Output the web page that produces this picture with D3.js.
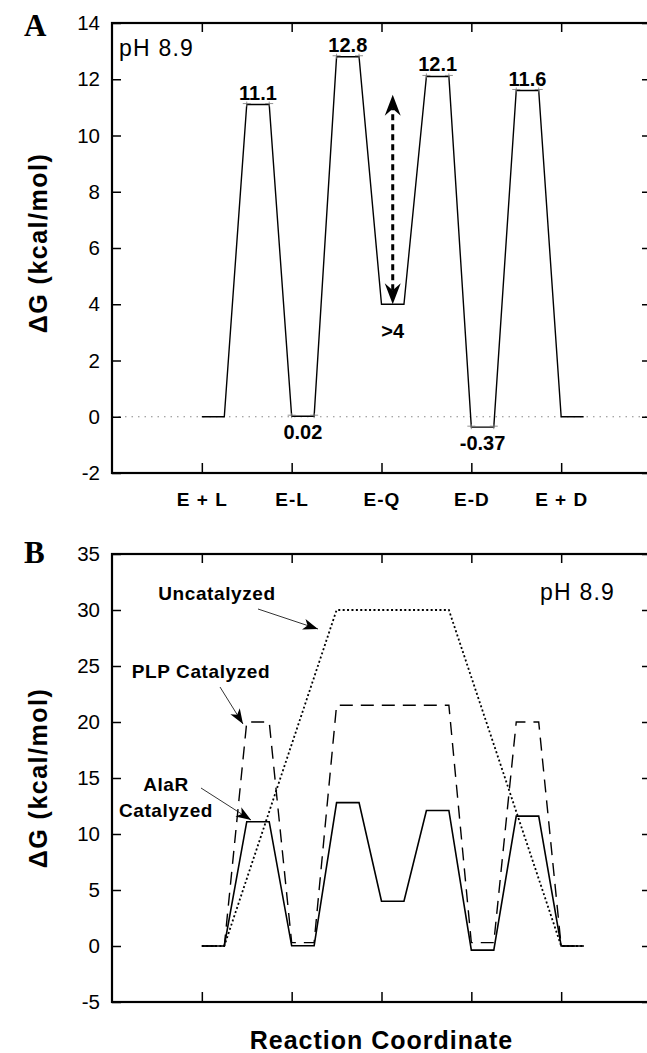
<!DOCTYPE html>
<html><head><meta charset="utf-8">
<script src="https://cdn.jsdelivr.net/npm/d3@7"></script>
<style>
body{margin:0;background:#fff}
svg text{font-family:Arial,"Liberation Sans",Helvetica,sans-serif;fill:#000}
</style>
</head><body>
<svg id="c" width="647" height="1053"></svg>
<script>
// ---------- data ----------
const categories = ["E + L", "E-L", "E-Q", "E-D", "E + D"];
const categoryPos = [1, 2, 3, 4, 5];
const slotStart = [1, 1.5, 2, 2.5, 3, 3.5, 4, 4.5, 5];
const slotWidth = 0.25;
const alarLevels  = [0, 11.1, 0.02, 12.8, 4, 12.1, -0.37, 11.6, 0];
const plpLevels   = [0, 20, 0.3, 21.5, 21.5, 21.5, 0.3, 20, 0];
const uncatLevels = [0, null, null, 30, 30, 30, null, null, 0];
const yTicksA = [-2, 0, 2, 4, 6, 8, 10, 12, 14];
const yTicksB = [-5, 0, 5, 10, 15, 20, 25, 30, 35];
const aboveSlots = [1, 3, 5, 7];
const aboveLabels = ["11.1", "12.8", "12.1", "11.6"];
const belowSlots = [2, 4, 6];
const belowLabels = ["0.02", ">4", "-0.37"];
const arrowRange = [4, 11.45];   // dashed double arrow in panel A (kcal/mol)

// ---------- layout ----------
const svg = d3.select("#c");
const xL = 112, xR = 651;
const x = d3.scaleLinear().domain([0, 6]).range([xL, xR]);
const yA = d3.scaleLinear().domain([-2, 14]).range([473, 23]);
const yB = d3.scaleLinear().domain([-5, 35]).range([1002, 554]);

function pts(levels) {
  const p = [];
  levels.forEach((v, i) => {
    if (v === null) return;
    p.push([slotStart[i], v], [slotStart[i] + slotWidth, v]);
  });
  return p;
}

function frame(g, y, ticks, withCats) {
  const top = y.range()[1], bot = y.range()[0];
  const ax = g.append("g").attr("transform", `translate(${xL},0)`)
    .call(d3.axisLeft(y).tickValues(ticks).tickSize(-9).tickPadding(12).tickSizeOuter(0).tickFormat(d => String(d)));
  ax.select(".domain").remove();
  ax.selectAll("text").style("font-size", "20.5px").style("font-family", "Arial, 'Liberation Sans', sans-serif");
  ax.selectAll("line").attr("stroke-width", 1.5);
  const ar = g.append("g").attr("transform", `translate(${xR},0)`)
    .call(d3.axisRight(y).tickValues(ticks).tickSize(-9).tickSizeOuter(0).tickFormat(""));
  ar.select(".domain").remove();
  ar.selectAll("line").attr("stroke-width", 1.5);
  const at = g.append("g").attr("transform", `translate(0,${top})`)
    .call(d3.axisTop(x).tickValues(categoryPos).tickSize(-9).tickSizeOuter(0).tickFormat(""));
  at.select(".domain").remove();
  at.selectAll("line").attr("stroke-width", 1.5);
  const ab = g.append("g").attr("transform", `translate(0,${bot})`)
    .call(d3.axisBottom(x).tickValues(categoryPos).tickSize(-10).tickSizeOuter(0).tickPadding(20)
      .tickFormat((d, i) => withCats ? categories[i] : ""));
  ab.select(".domain").remove();
  ab.selectAll("line").attr("stroke-width", 1.5);
  ab.selectAll("text").style("font-size", "19px").style("font-weight", "bold")
    .style("letter-spacing", "1px").style("font-family", "Arial, 'Liberation Sans', sans-serif");
  g.append("rect").attr("x", xL).attr("y", top).attr("width", xR - xL).attr("height", bot - top)
    .attr("fill", "none").attr("stroke", "#000").attr("stroke-width", 2.2);
}

function yTitle(g, cy) {
  g.append("text").attr("transform", `translate(47,${cy}) rotate(-90)`)
    .attr("text-anchor", "middle").style("font-size", "25px").style("font-weight", "bold")
    .style("letter-spacing", "1.5px").text("\u0394G (kcal/mol)");
}

function arrowHead(g, tip, angle, len, half, notch) {
  g.append("path")
    .attr("d", `M0,0 L${-len},${-half} L${-len + notch},0 L${-len},${half} Z`)
    .attr("transform", `translate(${tip[0]},${tip[1]}) rotate(${angle})`)
    .attr("fill", "#000");
}

// ---------- panel A ----------
const gA = svg.append("g");
gA.append("line").attr("x1", xL).attr("x2", xR).attr("y1", yA(0)).attr("y2", yA(0))
  .attr("stroke", "#888").attr("stroke-width", 1).attr("stroke-dasharray", "1.5,5");

const line = (y) => d3.line().x(d => x(d[0])).y(d => y(d[1]));
gA.append("path").attr("d", line(yA)(pts(alarLevels))).attr("fill", "none")
  .attr("stroke", "#000").attr("stroke-width", 1.4).attr("stroke-linejoin", "miter");

// small error caps on plateaus
alarLevels.forEach((v, i) => {
  if (i === 0 || i === alarLevels.length - 1 || i === 4) return;
  [slotStart[i], slotStart[i] + slotWidth].forEach(s => {
    gA.append("line").attr("x1", x(s) - 4).attr("x2", x(s) + 4).attr("y1", yA(v) - 1).attr("y2", yA(v) - 1)
      .attr("stroke", "#777").attr("stroke-width", 0.8);
    gA.append("line").attr("x1", x(s)).attr("x2", x(s)).attr("y1", yA(v) - 3).attr("y2", yA(v) + 2)
      .attr("stroke", "#777").attr("stroke-width", 0.8);
  });
});

frame(gA, yA, yTicksA, true);
yTitle(gA, 243);

aboveSlots.forEach((s, i) => {
  gA.append("text").attr("x", x(slotStart[s] + slotWidth / 2)).attr("y", yA(alarLevels[s]) - 5)
    .attr("text-anchor", "middle").style("font-size", "20px").style("font-weight", "bold").text(aboveLabels[i]);
});
const belowOff = [23, 34, 23];
belowSlots.forEach((s, i) => {
  gA.append("text").attr("x", x(slotStart[s] + slotWidth / 2)).attr("y", yA(alarLevels[s]) + belowOff[i])
    .attr("text-anchor", "middle").style("font-size", "20px").style("font-weight", "bold").text(belowLabels[i]);
});

// dashed double-headed arrow
const axX = x(3 + slotWidth / 2);
gA.append("line").attr("x1", axX).attr("x2", axX)
  .attr("y1", yA(arrowRange[0]) - 14).attr("y2", yA(arrowRange[1]) + 14)
  .attr("stroke", "#000").attr("stroke-width", 3).attr("stroke-dasharray", "6,4");
arrowHead(gA, [axX, yA(arrowRange[1])], -90, 21, 8, 7);
arrowHead(gA, [axX, yA(arrowRange[0])], 90, 21, 8, 7);

gA.append("text").attr("x", 119).attr("y", 56).style("font-size", "23px").style("letter-spacing", "1.2px").text("pH 8.9");
gA.append("text").attr("x", 24).attr("y", 36).style("font-family", "'Liberation Serif','DejaVu Serif',Times,serif")
  .style("font-size", "31px").style("font-weight", "bold").text("A");

// ---------- panel B ----------
const gB = svg.append("g");
gB.append("path").attr("d", line(yB)(pts(uncatLevels))).attr("fill", "none")
  .attr("stroke", "#000").attr("stroke-width", 1.8).attr("stroke-dasharray", "2,2.4");
gB.append("path").attr("d", line(yB)(pts(plpLevels))).attr("fill", "none")
  .attr("stroke", "#000").attr("stroke-width", 1.4).attr("stroke-dasharray", "13,8");
gB.append("path").attr("d", line(yB)(pts(alarLevels))).attr("fill", "none")
  .attr("stroke", "#000").attr("stroke-width", 1.6);

frame(gB, yB, yTicksB, false);
yTitle(gB, 778);

gB.append("text").attr("x", 540).attr("y", 600).style("font-size", "23px").style("letter-spacing", "1.2px").text("pH 8.9");
gB.append("text").attr("x", 24).attr("y", 563).style("font-family", "'Liberation Serif','DejaVu Serif',Times,serif")
  .style("font-size", "31px").style("font-weight", "bold").text("B");

const ann = [
  {t: ["Uncatalyzed"], tx: 217, ty: [600], from: [258, 609], to: [318, 629]},
  {t: ["PLP Catalyzed"], tx: 201, ty: [678], from: [220, 687], to: [243, 724]},
  {t: ["AlaR", "Catalyzed"], tx: 166, ty: [791, 817], from: [201, 788], to: [251, 820]}
];
ann.forEach(a => {
  a.t.forEach((s, i) => gB.append("text").attr("x", a.tx).attr("y", a.ty[i]).attr("text-anchor", "middle")
    .style("font-size", "19px").style("font-weight", "bold").style("letter-spacing", "0.6px").text(s));
  gB.append("line").attr("x1", a.from[0]).attr("y1", a.from[1]).attr("x2", a.to[0]).attr("y2", a.to[1])
    .attr("stroke", "#000").attr("stroke-width", 0.8);
  const ang = Math.atan2(a.to[1] - a.from[1], a.to[0] - a.from[0]) * 180 / Math.PI;
  arrowHead(gB, a.to, ang, 15, 5.5, 4);
});

svg.append("text").attr("x", (xL + xR) / 2).attr("y", 1049).attr("text-anchor", "middle")
  .style("font-size", "25px").style("font-weight", "bold").style("letter-spacing", "1px").text("Reaction Coordinate");
</script>
</body></html>
